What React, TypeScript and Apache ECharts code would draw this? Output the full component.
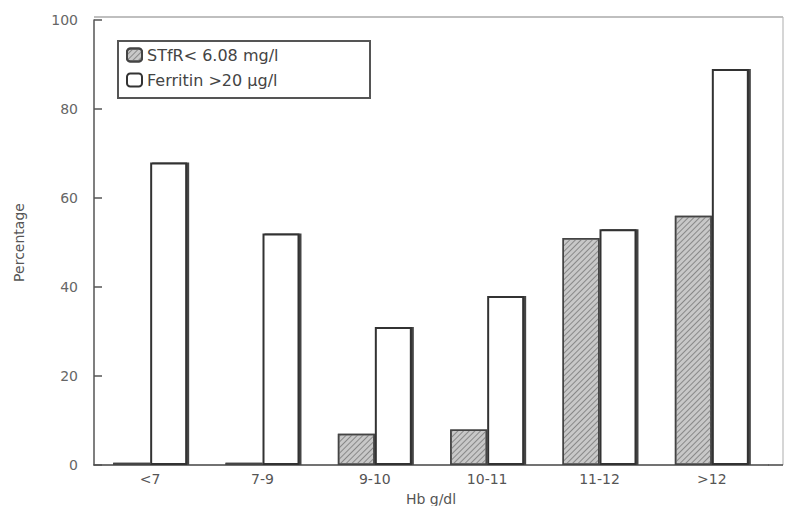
import React, { useEffect, useRef } from "react";
import * as echarts from "echarts";

const categories = ["<7", "7-9", "9-10", "10-11", "11-12", ">12"];
const stfrValues = [0.5, 0.5, 7, 8, 51, 56];
const ferritinValues = [68, 52, 31, 38, 53, 89];
const yTicks = [0, 20, 40, 60, 80, 100];
const seriesNames = ["STfR< 6.08 mg/l", "Ferritin >20 μg/l"];

export default function App() {
  const ref = useRef<HTMLDivElement>(null);
  useEffect(() => {
    if (!ref.current) return;
    const chart = echarts.init(ref.current, undefined, { renderer: "svg" });
    const font = "DejaVu Sans";
    chart.setOption({
      animation: false,
      backgroundColor: "#fff",
      textStyle: { fontFamily: font },
      grid: {
        left: 94,
        right: 21,
        top: 20,
        bottom: 41,
        containLabel: false,
        outerBoundsMode: "none",
      },
      legend: {
        show: true,
        orient: "vertical",
        left: 126,
        top: 47,
        itemWidth: 15,
        itemHeight: 13,
        itemGap: 9,
        padding: 0,
        textStyle: { fontSize: 16, color: "#444", fontFamily: font },
        data: seriesNames,
      },
      xAxis: {
        type: "category",
        data: categories,
        name: "Hb g/dl",
        nameLocation: "middle",
        nameGap: 22,
        nameTextStyle: { fontSize: 14, color: "#555", fontFamily: font, lineHeight: 16 },
        axisLine: { lineStyle: { color: "#444", width: 1.5 } },
        axisTick: { show: false },
        axisLabel: { fontSize: 14, color: "#555", margin: 7, fontFamily: font },
      },
      yAxis: {
        type: "value",
        min: yTicks[0],
        max: yTicks[yTicks.length - 1],
        interval: 20,
        name: "Percentage",
        nameLocation: "middle",
        nameGap: 68,
        nameTextStyle: { fontSize: 14, color: "#555", fontFamily: font },
        axisLine: { show: true, lineStyle: { color: "#555", width: 1.5 } },
        axisTick: { show: true, inside: true, length: 8, lineStyle: { color: "#555", width: 1.5 } },
        splitLine: { show: false },
        axisLabel: { fontSize: 14, color: "#666", margin: 16, fontFamily: font },
      },
      series: [
        {
          name: seriesNames[0],
          type: "bar",
          data: stfrValues,
          barWidth: 37,
          barGap: "0%",
          itemStyle: {
            color: "#c8c8c8",
            borderColor: "#444",
            borderWidth: 1.5,
            decal: {
              symbol: "rect",
              symbolSize: 1,
              dashArrayX: [1, 0],
              dashArrayY: [1, 2.5],
              rotation: -Math.PI / 4,
              color: "#888",
            },
          },
        },
        {
          name: seriesNames[1],
          type: "bar",
          data: ferritinValues,
          barWidth: 37,
          barGap: "0%",
          itemStyle: {
            color: "#fff",
            borderColor: "#333",
            borderWidth: 2,
            shadowColor: "#444",
            shadowBlur: 0,
            shadowOffsetX: 2,
            shadowOffsetY: 0,
          },
        },
      ],
      graphic: [
        {
          type: "rect",
          shape: { x: 118, y: 41, width: 252, height: 57 },
          style: { fill: "none", stroke: "#555", lineWidth: 2 },
          silent: true,
        },
        {
          type: "line",
          shape: { x1: 94, y1: 17, x2: 783, y2: 17 },
          style: { stroke: "#aaa", lineWidth: 1.5 },
          silent: true,
        },
        {
          type: "line",
          shape: { x1: 783, y1: 17, x2: 783, y2: 465 },
          style: { stroke: "#bbb", lineWidth: 1.2 },
          silent: true,
        },
        {
          type: "line",
          shape: { x1: 768, y1: 465, x2: 783, y2: 465 },
          style: { stroke: "#444", lineWidth: 1.5 },
          silent: true,
        },
      ],
    });
    return () => chart.dispose();
  }, []);
  return (
    <div
      ref={ref}
      style={{ position: "absolute", left: 0, top: 0, width: 789, height: 506 }}
    />
  );
}
